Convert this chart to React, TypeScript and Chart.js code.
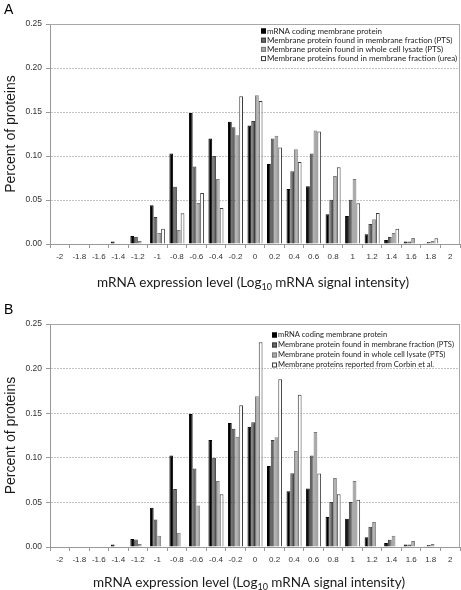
import React, { useEffect, useRef } from 'react';
import { Chart, registerables } from 'chart.js';

Chart.register(...registerables);

const categories = ['-2', '-1.8', '-1.6', '-1.4', '-1.2', '-1', '-0.8', '-0.6', '-0.4', '-0.2', '0', '0.2', '0.4', '0.6', '0.8', '1', '1.2', '1.4', '1.6', '1.8', '2'];

const mrnaCoding = [0, 0, 0, 0.0027, 0.009, 0.044, 0.1027, 0.149, 0.12, 0.139, 0.1348, 0.0909, 0.0625, 0.0655, 0.0337, 0.0318, 0.011, 0.0045, 0.0027, 0.0008, 0];
const membraneFractionPTS = [0, 0, 0, 0, 0.0083, 0.0307, 0.065, 0.088, 0.1, 0.1326, 0.1398, 0.12, 0.0826, 0.1027, 0.0504, 0.0504, 0.0227, 0.008, 0.0027, 0.0023, 0];
const wholeCellLysatePTS = [0, 0, 0, 0, 0.0034, 0.0125, 0.016, 0.0466, 0.0739, 0.1235, 0.169, 0.123, 0.1076, 0.129, 0.0773, 0.0739, 0.028, 0.0125, 0.0068, 0.0034, 0];
const membraneFractionUrea = [0, 0, 0, 0, 0, 0.0174, 0.035, 0.058, 0.041, 0.168, 0.1625, 0.1098, 0.0932, 0.1277, 0.0871, 0.0462, 0.0352, 0.0174, 0, 0.0064, 0];
const corbinReported = [0, 0, 0, 0, 0, 0, 0, 0, 0.059, 0.159, 0.2295, 0.188, 0.1707, 0.0825, 0.059, 0.053, 0, 0, 0, 0, 0];

const labelMrna = 'mRNA coding membrane protein';
const labelFractionPTS = 'Membrane protein found in membrane fraction (PTS)';
const labelLysatePTS = 'Membrane protein found in whole cell lysate (PTS)';
const labelUrea = 'Membrane proteins found in membrane fraction (urea)';
const labelCorbin = 'Membrane proteins reported from Corbin et al.';

const yMin = 0;
const yMax = 0.25;
const yStep = 0.05;

const yTitle = 'Percent of proteins';
const xTitleParts = ['mRNA expression level (Log', '10', ' mRNA signal intensity)'];

const barStyles = [
  { backgroundColor: '#000000', borderColor: '#000000' },
  { backgroundColor: '#666666', borderColor: '#3c3c3c' },
  { backgroundColor: '#aaaaaa', borderColor: '#7a7a7a' },
  { backgroundColor: '#ffffff', borderColor: '#3c3c3c' },
];

type PanelCfg = {
  letter: string;
  top: number;
  height: number;
  padTop: number;
  xAxisHeight: number;
  fourthData: number[];
  fourthLabel: string;
  legendX: number;
  legendY: number;
  legendGap: number;
  legendFont: number;
  xTitleCenter: number;
  xTitleBaseline: number;
  letterBaseline: number;
};

function Panel({ cfg }: { cfg: PanelCfg }) {
  const ref = useRef<HTMLCanvasElement | null>(null);
  useEffect(() => {
    const canvas = ref.current;
    if (!canvas) return;
    const seriesData = [mrnaCoding, membraneFractionPTS, wholeCellLysatePTS, cfg.fourthData];
    const seriesLabels = [labelMrna, labelFractionPTS, labelLysatePTS, cfg.fourthLabel];

    const overlay = {
      id: 'overlay',
      beforeDatasetsDraw(chart: any) {
        const { ctx, chartArea } = chart;
        ctx.save();
        ctx.strokeStyle = '#a8a8a8';
        ctx.lineWidth = 1;
        ctx.beginPath();
        ctx.moveTo(chartArea.left, Math.round(chartArea.top) + 0.5);
        ctx.lineTo(chartArea.right, Math.round(chartArea.top) + 0.5);
        ctx.moveTo(Math.round(chartArea.right) - 0.5, chartArea.top);
        ctx.lineTo(Math.round(chartArea.right) - 0.5, chartArea.bottom);
        ctx.stroke();
        ctx.restore();
      },
      afterDraw(chart: any) {
        const { ctx, chartArea } = chart;
        ctx.save();
        ctx.fillStyle = '#000';
        ctx.font = '14px "Liberation Sans", Arial, sans-serif';
        ctx.textAlign = 'left';
        ctx.textBaseline = 'alphabetic';
        ctx.fillText(cfg.letter, 4, cfg.letterBaseline);

        ctx.save();
        ctx.translate(15, (chartArea.top + chartArea.bottom) / 2);
        ctx.rotate(-Math.PI / 2);
        ctx.textAlign = 'center';
        ctx.fillStyle = '#1a1a1a';
        ctx.font = '14px "Liberation Sans", Arial, sans-serif';
        ctx.fillText(yTitle, 0, 0);
        ctx.restore();

        const mainFont = '13.5px Lato, "Open Sans", sans-serif';
        const subFont = '9px Lato, "Open Sans", sans-serif';
        ctx.font = mainFont;
        const w0 = ctx.measureText(xTitleParts[0]).width;
        const w2 = ctx.measureText(xTitleParts[2]).width;
        ctx.font = subFont;
        const w1 = ctx.measureText(xTitleParts[1]).width;
        let x = cfg.xTitleCenter - (w0 + w1 + w2) / 2;
        ctx.textAlign = 'left';
        ctx.fillStyle = '#1a1a1a';
        ctx.font = mainFont;
        ctx.fillText(xTitleParts[0], x, cfg.xTitleBaseline);
        x += w0;
        ctx.font = subFont;
        ctx.fillText(xTitleParts[1], x, cfg.xTitleBaseline + 3);
        x += w1;
        ctx.font = mainFont;
        ctx.fillText(xTitleParts[2], x, cfg.xTitleBaseline);

        ctx.font = `${cfg.legendFont}px Lato, "Open Sans", sans-serif`;
        ctx.textBaseline = 'middle';
        seriesLabels.forEach((lab, i) => {
          const y = cfg.legendY + i * cfg.legendGap;
          ctx.fillStyle = barStyles[i].backgroundColor;
          ctx.fillRect(cfg.legendX, y - 2.5, 5, 5);
          ctx.strokeStyle = barStyles[i].borderColor;
          ctx.lineWidth = 1;
          ctx.strokeRect(cfg.legendX + 0.5, y - 2, 4, 4);
          ctx.fillStyle = '#222';
          ctx.fillText(lab, cfg.legendX + 6, y);
        });
        ctx.restore();
      },
    };

    const chart = new Chart(canvas, {
      type: 'bar',
      data: {
        labels: categories,
        datasets: seriesData.map((d, i) => ({
          label: seriesLabels[i],
          data: d,
          backgroundColor: barStyles[i].backgroundColor,
          borderColor: barStyles[i].borderColor,
          borderWidth: 1,
          barPercentage: 1.0,
          categoryPercentage: 0.77,
        })),
      },
      options: {
        animation: false,
        responsive: false,
        maintainAspectRatio: false,
        devicePixelRatio: 1,
        layout: { padding: { top: cfg.padTop, right: 1, left: 0, bottom: 0 } },
        plugins: {
          legend: { display: false },
          tooltip: { enabled: false },
          title: { display: false },
        },
        scales: {
          x: {
            grid: {
              display: true,
              drawOnChartArea: false,
              drawTicks: true,
              tickLength: 4,
              offset: true,
              color: '#999999',
              tickColor: '#999999',
            },
            border: { color: '#999999' },
            ticks: {
              font: { family: '"Liberation Sans", Arial, sans-serif', size: 8 },
              color: '#333333',
              padding: 4,
              maxRotation: 0,
              minRotation: 0,
              autoSkip: false,
            },
            afterFit: (s: any) => {
              s.height = cfg.xAxisHeight;
            },
          },
          y: {
            min: yMin,
            max: yMax,
            ticks: {
              stepSize: yStep,
              callback: (v: any) => Number(v).toFixed(2),
              font: { family: '"Liberation Sans", Arial, sans-serif', size: 8.5 },
              color: '#333333',
              padding: 4,
            },
            grid: {
              color: '#c4c4c4',
              tickColor: '#999999',
              tickLength: 4,
              drawTicks: true,
            },
            border: { color: '#999999', dash: [2, 1] },
            afterFit: (s: any) => {
              s.width = 50;
            },
          },
        },
      },
      plugins: [overlay],
    } as any);
    return () => chart.destroy();
  }, []);
  return (
    <canvas
      ref={ref}
      width={461}
      height={cfg.height}
      style={{ position: 'absolute', left: 0, top: cfg.top, width: 461, height: cfg.height }}
    />
  );
}

const panelA: PanelCfg = {
  letter: 'A',
  top: 0,
  height: 290,
  padTop: 24,
  xAxisHeight: 46,
  fourthData: membraneFractionUrea,
  fourthLabel: labelUrea,
  legendX: 261,
  legendY: 31,
  legendGap: 9.2,
  legendFont: 8,
  xTitleCenter: 253,
  xTitleBaseline: 287,
  letterBaseline: 14,
};

const panelB: PanelCfg = {
  letter: 'B',
  top: 290,
  height: 300,
  padTop: 34,
  xAxisHeight: 43,
  fourthData: corbinReported,
  fourthLabel: labelCorbin,
  legendX: 272,
  legendY: 45,
  legendGap: 10,
  legendFont: 7.6,
  xTitleCenter: 249,
  xTitleBaseline: 297,
  letterBaseline: 24,
};

export default function App() {
  return (
    <div style={{ position: 'absolute', left: 0, top: 0, width: 461, height: 590, background: '#fff' }}>
      <Panel cfg={panelA} />
      <Panel cfg={panelB} />
    </div>
  );
}
